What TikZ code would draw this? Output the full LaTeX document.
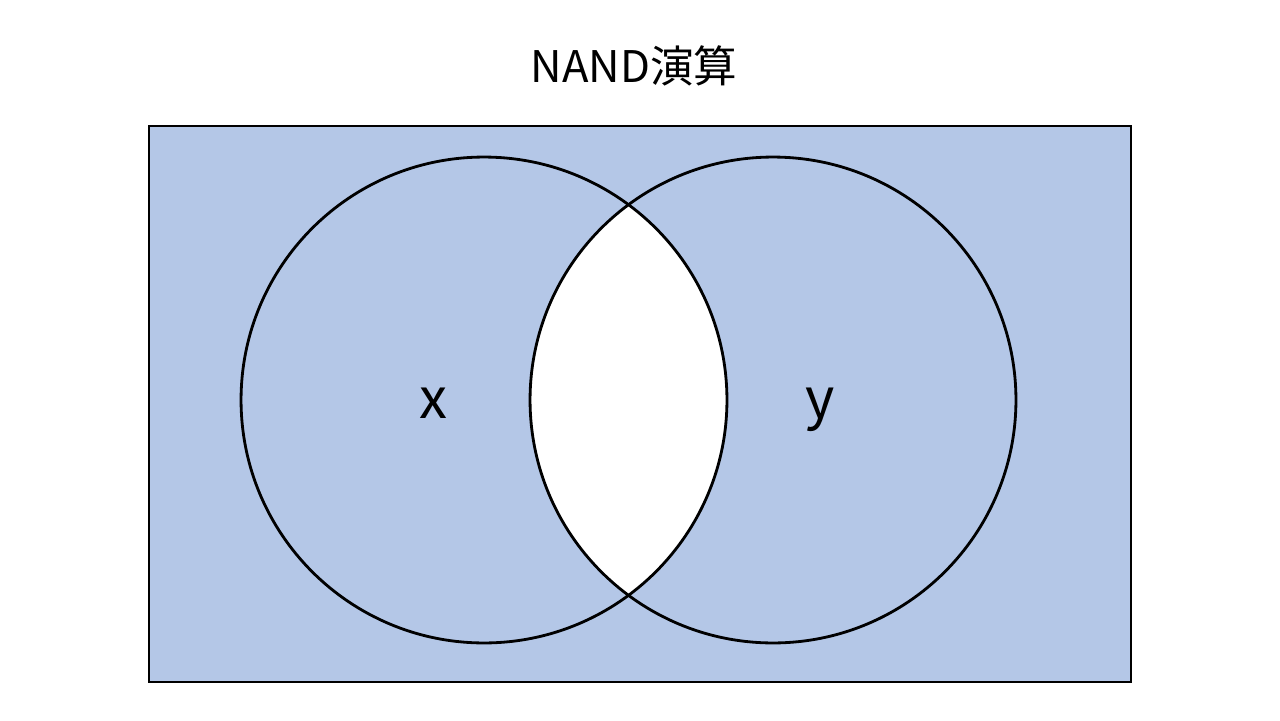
\documentclass[tikz,border=0pt]{standalone}
\usepackage{fontspec}
\setmainfont{Noto Sans CJK JP}
\usepackage{xcolor}
\usetikzlibrary{positioning}
\definecolor{setblue}{HTML}{B4C7E7}

\begin{document}
\begin{tikzpicture}[
  x=0.02cm, y=-0.02cm,
  outline/.style={draw=black, line width=1.6pt},
  setlabel/.style={font=\fontsize{32}{38}\selectfont, anchor=base},
]
\useasboundingbox (0,0) rectangle (1280,720);
\coordinate (cx) at (484,400);
\coordinate (cy) at (773,400);
% universe
\fill[setblue] (149,126) rectangle (1131,682);
% intersection left blank
\begin{scope}
  \clip (cx) circle [radius=4.86cm];
  \fill[white] (cy) circle [radius=4.86cm];
\end{scope}
\draw[outline] (cx) circle [radius=4.86cm];
\draw[outline] (cy) circle [radius=4.86cm];
\draw[draw=black, line width=1.4pt] (149,126) rectangle (1131,682);
\node[setlabel] (lx) at (433,418) {x};
\node[setlabel] (ly) at (820,418) {y};
\node[font=\fontsize{24.8}{30}\selectfont] (title) at (634,66) {NAND演算};
\end{tikzpicture}
\end{document}
